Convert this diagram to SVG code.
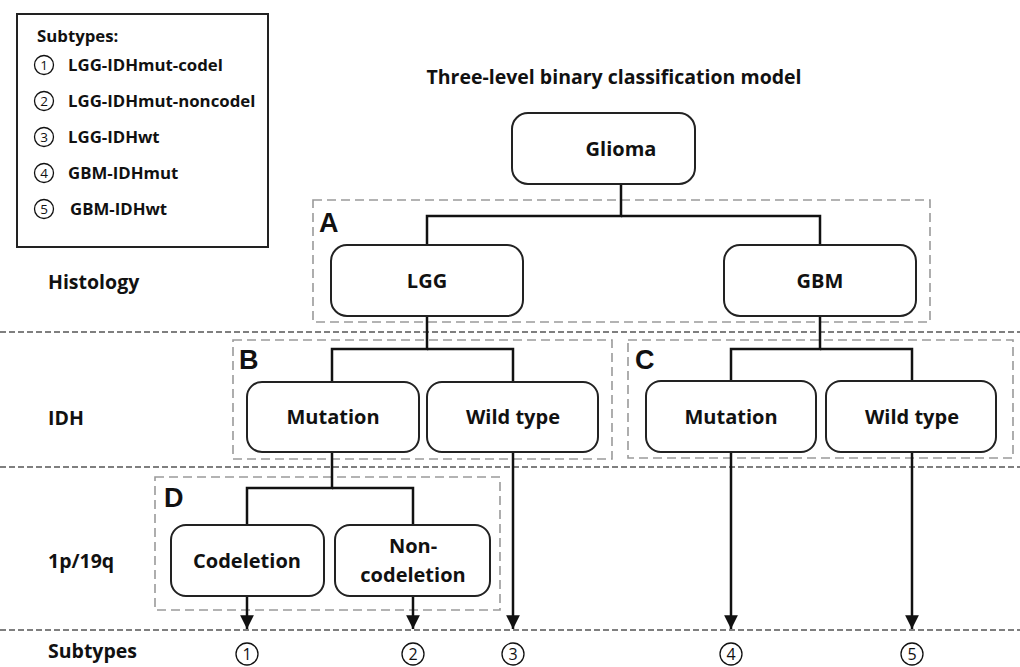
<svg xmlns="http://www.w3.org/2000/svg" width="1020" height="667" viewBox="0 0 1020 667">
<style>
.bg{fill:#fff}
.node rect{fill:#fff;stroke:#222;stroke-width:2}
.lbl{font-family:"Open Sans","Noto Sans",sans-serif;font-weight:700;font-size:20px;fill:#111;text-anchor:middle}
.row{font-family:"Open Sans","Noto Sans",sans-serif;font-weight:700;font-size:19.5px;fill:#111}
.leg{font-family:"Open Sans","Noto Sans",sans-serif;font-weight:700;font-size:16.8px;fill:#111}
.cc{fill:none;stroke:#111;stroke-width:1.3}
.cd{font-family:"Open Sans","Noto Sans",sans-serif;fill:#111;text-anchor:middle}
.grp{fill:none;stroke:#9a9a9a;stroke-width:1.6;stroke-dasharray:9 5}
.div{fill:none;stroke:#555;stroke-width:1.5;stroke-dasharray:6 3}
.let{font-family:"Liberation Sans",Arial,sans-serif;font-weight:700;font-size:27px;fill:#111}
.con{fill:none;stroke:#111;stroke-width:2.5}
</style>
<defs>
<marker id="arr" viewBox="0 0 10 10" refX="10" refY="5" markerWidth="5.5" markerHeight="5.5" orient="auto" markerUnits="strokeWidth">
<path d="M0,0 L10,5 L0,10 Z" fill="#111"/>
</marker>
</defs>
<rect class="bg" x="0" y="0" width="1020" height="667"/>

<g id="legend">
<rect x="17" y="14" width="251" height="233" fill="#fff" stroke="#222" stroke-width="2"/>
<text class="leg" x="37" y="42" font-size="18.5">Subtypes:</text>
<circle class="cc" cx="44" cy="65" r="9.5"/><text class="cd" x="44" y="70" font-size="13.5">1</text>
<text class="leg" x="68" y="71">LGG-IDHmut-codel</text>
<circle class="cc" cx="44" cy="101" r="9.5"/><text class="cd" x="44" y="106" font-size="13.5">2</text>
<text class="leg" x="68" y="107">LGG-IDHmut-noncodel</text>
<circle class="cc" cx="44" cy="137" r="9.5"/><text class="cd" x="44" y="142" font-size="13.5">3</text>
<text class="leg" x="68" y="143">LGG-IDHwt</text>
<circle class="cc" cx="44" cy="173" r="9.5"/><text class="cd" x="44" y="178" font-size="13.5">4</text>
<text class="leg" x="68" y="179">GBM-IDHmut</text>
<circle class="cc" cx="44" cy="209" r="9.5"/><text class="cd" x="44" y="214" font-size="13.5">5</text>
<text class="leg" x="70" y="215">GBM-IDHwt</text>
</g>

<text class="row" x="614" y="84" text-anchor="middle" font-size="19.8">Three-level binary classification model</text>

<g id="dividers">
<line class="div" x1="0" y1="332" x2="1020" y2="332"/>
<line class="div" x1="0" y1="467" x2="1020" y2="467"/>
<line class="div" x1="0" y1="630" x2="1020" y2="630"/>
</g>

<g id="row-labels">
<text class="row" x="48" y="289">Histology</text>
<text class="row" x="48" y="425">IDH</text>
<text class="row" x="48" y="568">1p/19q</text>
<text class="row" x="48" y="658">Subtypes</text>
</g>

<g id="groups">
<rect class="grp" x="313" y="200" width="617" height="122"/>
<text class="let" x="319" y="232">A</text>
<rect class="grp" x="233" y="340" width="379" height="119"/>
<text class="let" x="239" y="369">B</text>
<rect class="grp" x="628" y="340" width="385" height="118"/>
<text class="let" x="635" y="369">C</text>
<rect class="grp" x="155" y="477" width="345" height="133"/>
<text class="let" x="164" y="507">D</text>
</g>

<g id="connectors">
<polyline class="con" points="621,184 621,216 427,216 427,245"/>
<polyline class="con" points="621,216 820,216 820,245"/>
<polyline class="con" points="427,316 427,349 332,349 332,382"/>
<polyline class="con" points="427,349 513,349 513,382"/>
<polyline class="con" points="820,316 820,349 731,349 731,381"/>
<polyline class="con" points="820,349 912,349 912,381"/>
<polyline class="con" points="332,452 332,488 247,488 247,525"/>
<polyline class="con" points="332,488 413,488 413,525"/>
<line class="con" x1="247" y1="596" x2="247" y2="629" marker-end="url(#arr)"/>
<line class="con" x1="413" y1="596" x2="413" y2="629" marker-end="url(#arr)"/>
<line class="con" x1="513" y1="452" x2="513" y2="629" marker-end="url(#arr)"/>
<line class="con" x1="731" y1="452" x2="731" y2="629" marker-end="url(#arr)"/>
<line class="con" x1="912" y1="452" x2="912" y2="629" marker-end="url(#arr)"/>
</g>

<g id="glioma" class="node"><rect x="512" y="113" width="183" height="71" rx="16"/><text class="lbl" x="621" y="156">Glioma</text></g>
<g id="lgg" class="node"><rect x="331" y="245" width="192" height="71" rx="16"/><text class="lbl" x="427" y="288">LGG</text></g>
<g id="gbm" class="node"><rect x="724" y="245" width="192" height="71" rx="16"/><text class="lbl" x="820" y="288">GBM</text></g>
<g id="lgg-mutation" class="node"><rect x="247" y="382" width="172" height="70" rx="15"/><text class="lbl" x="333" y="424">Mutation</text></g>
<g id="lgg-wildtype" class="node"><rect x="427" y="382" width="171" height="70" rx="15"/><text class="lbl" x="513" y="424">Wild type</text></g>
<g id="gbm-mutation" class="node"><rect x="646" y="381" width="170" height="71" rx="15"/><text class="lbl" x="731" y="424">Mutation</text></g>
<g id="gbm-wildtype" class="node"><rect x="826" y="381" width="170" height="71" rx="15"/><text class="lbl" x="912" y="424">Wild type</text></g>
<g id="codeletion" class="node"><rect x="171" y="525" width="153" height="71" rx="15"/><text class="lbl" x="247" y="568">Codeletion</text></g>
<g id="non-codeletion" class="node"><rect x="335" y="525" width="155" height="71" rx="15"/><text class="lbl" x="413" y="553">Non-</text><text class="lbl" x="413" y="582">codeletion</text></g>

<g id="subtype-markers">
<circle class="cc" cx="247" cy="654" r="11"/><text class="cd" x="247" y="660" font-size="16">1</text>
<circle class="cc" cx="413" cy="654" r="11"/><text class="cd" x="413" y="660" font-size="16">2</text>
<circle class="cc" cx="513" cy="654" r="11"/><text class="cd" x="513" y="660" font-size="16">3</text>
<circle class="cc" cx="731" cy="654" r="11"/><text class="cd" x="731" y="660" font-size="16">4</text>
<circle class="cc" cx="912" cy="654" r="11"/><text class="cd" x="912" y="660" font-size="16">5</text>
</g>
</svg>
